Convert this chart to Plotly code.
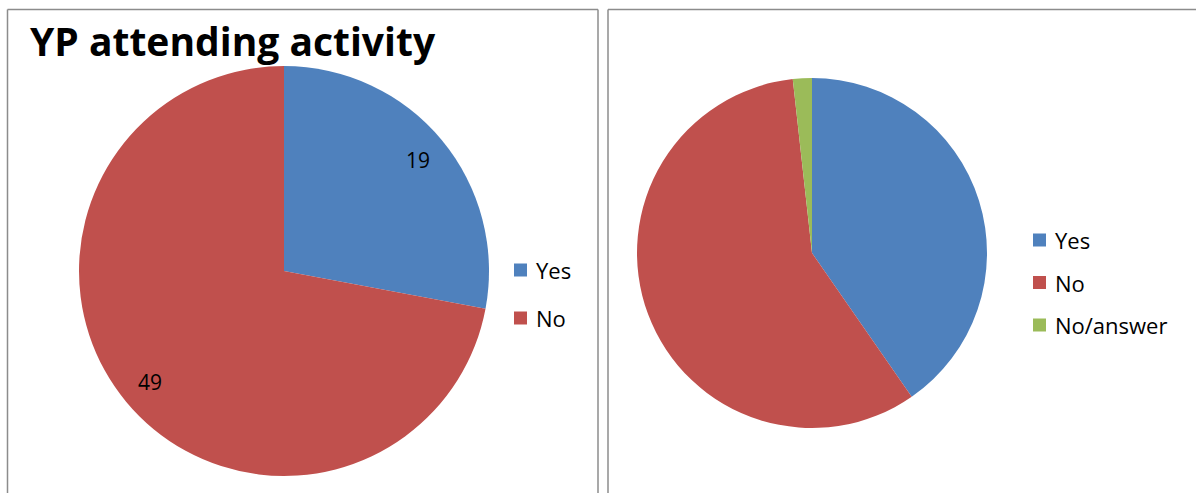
import math
import plotly.graph_objects as go

W, H = 1196, 493

# ---- data ----
left_title = "YP attending activity"
left_labels = ["Yes", "No"]
left_values = [19, 49]

right_labels = ["Yes", "No", "No/answer"]
right_values = [23, 33, 1]

colors = {"Yes": "#4F81BD", "No": "#C0504D", "No/answer": "#9BBB59"}
FONT = "Open Sans, Carlito, Calibri, sans-serif"


def px(x):
    return x / W


def py(y):
    return 1 - y / H


fig = go.Figure()

# pie geometry (pixels): centre and radius
L_CX, L_CY, L_R = 284, 271, 205
R_CX, R_CY, R_R = 812, 253, 175

fig.add_trace(go.Pie(
    labels=left_labels, values=left_values,
    marker=dict(colors=[colors[l] for l in left_labels], line=dict(width=0)),
    sort=False, direction="clockwise", rotation=0,
    textinfo="none", hoverinfo="label+value", showlegend=False,
    domain=dict(x=[px(L_CX - L_R), px(L_CX + L_R)], y=[py(L_CY + L_R), py(L_CY - L_R)]),
))
fig.add_trace(go.Pie(
    labels=right_labels, values=right_values,
    marker=dict(colors=[colors[l] for l in right_labels], line=dict(width=0)),
    sort=False, direction="clockwise", rotation=0,
    textinfo="none", hoverinfo="label+value", showlegend=False,
    domain=dict(x=[px(R_CX - R_R), px(R_CX + R_R)], y=[py(R_CY + R_R), py(R_CY - R_R)]),
))

annotations = []
shapes = []

# data labels for the left pie, placed along each slice's bisector
total = sum(left_values)
cum = 0
for lab, v in zip(left_labels, left_values):
    mid = (cum + v / 2) / total * 2 * math.pi
    cum += v
    rr = 0.85 * L_R
    x = L_CX + rr * math.sin(mid)
    y = L_CY - rr * math.cos(mid)
    annotations.append(dict(
        x=px(x), y=py(y), xref="paper", yref="paper", text=str(v),
        showarrow=False, xanchor="center", yanchor="middle",
        font=dict(family=FONT, size=21, color="#000000"),
    ))

# title
annotations.append(dict(
    x=px(28), y=py(41), xref="paper", yref="paper", text="<b>%s</b>" % left_title,
    showarrow=False, xanchor="left", yanchor="middle",
    font=dict(family=FONT, size=39, color="#000000"),
))


def add_legend(labels, x_sq, y_first, gap):
    for i, lab in enumerate(labels):
        yc = y_first + i * gap
        shapes.append(dict(
            type="rect", xref="paper", yref="paper",
            x0=px(x_sq), x1=px(x_sq + 13), y0=py(yc + 6.5), y1=py(yc - 6.5),
            fillcolor=colors[lab], line=dict(width=0),
        ))
        annotations.append(dict(
            x=px(x_sq + 20), y=py(yc), xref="paper", yref="paper", text=lab,
            showarrow=False, xanchor="left", yanchor="middle",
            font=dict(family=FONT, size=22, color="#000000"),
        ))


add_legend(left_labels, 514, 270, 48)
add_legend(right_labels, 1033, 240, 42.5)

# panel frames
frame = dict(color="#8C8C8C", width=1.5)
for x0, x1 in [(7.5, 598), (608, 1210)]:
    shapes.append(dict(type="line", xref="paper", yref="paper",
                       x0=px(x0), x1=px(x1), y0=py(9.5), y1=py(9.5), line=frame))
    shapes.append(dict(type="line", xref="paper", yref="paper",
                       x0=px(x0), x1=px(x0), y0=py(9.5), y1=py(500), line=frame))
    shapes.append(dict(type="line", xref="paper", yref="paper",
                       x0=px(x1), x1=px(x1), y0=py(9.5), y1=py(500), line=frame))

fig.update_layout(
    width=W, height=H,
    margin=dict(l=0, r=0, t=0, b=0),
    paper_bgcolor="#FFFFFF", plot_bgcolor="#FFFFFF",
    showlegend=False,
    annotations=annotations, shapes=shapes,
)

fig.write_html(
    "out.html",
    config={"displayModeBar": False},
    post_script="document.body.style.margin='0';document.body.style.overflow='hidden';",
)
